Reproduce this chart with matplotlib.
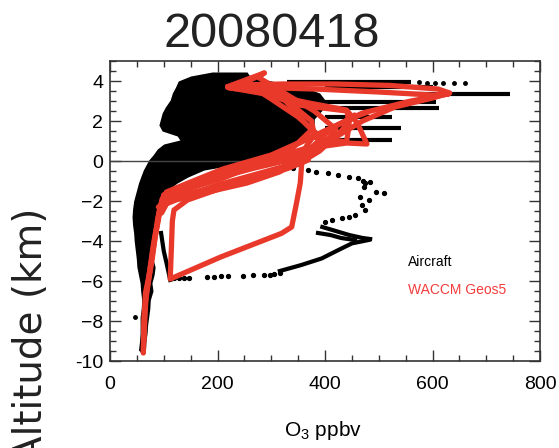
import numpy as np
import matplotlib
matplotlib.use('Agg')
import matplotlib.pyplot as plt
from matplotlib.ticker import MultipleLocator

plt.rcParams['font.family'] = 'Liberation Sans'
plt.rcParams['mathtext.fontset'] = 'custom'
plt.rcParams['mathtext.rm'] = 'Liberation Sans'
plt.rcParams['mathtext.default'] = 'regular'

# aircraft: dense part of the cloud (altitude, left / right O3 edge)
cloud_alt = [4.45, 4.25, 4.0, 3.7, 3.4, 3.05, 2.7, 2.4, 2.1, 1.8, 1.5, 1.25, 1.05, 0.85,
             0.6, 0.3, 0.05, -0.2, -0.45, -0.8, -1.1, -1.6, -2.0, -2.4, -2.8, -3.2,
             -3.6, -4.0, -4.45, -4.9, -5.3, -5.7, -6.1, -6.5, -6.95, -7.4, -7.8, -8.2,
             -8.6, -9.0, -9.45, -9.6]
cloud_left = [190, 150, 127, 122, 116, 112, 103, 97, 94, 91, 97, 125, 130, 100,
              88, 80, 72, 67, 62, 57, 53, 48, 44, 42, 41, 42,
              44, 45, 47, 49, 50, 53, 56, 57, 59, 58, 56, 56,
              56, 55, 53, 58]
cloud_right = [255, 260, 300, 360, 390, 400, 400, 390, 380, 380, 370, 360, 350, 340,
               330, 320, 290, 230, 175, 145, 125, 100, 94, 90, 86, 84,
               81, 80, 78, 80, 84, 82, 78, 80, 75, 74, 72, 70,
               69, 67, 66, 62]

# aircraft: level legs reaching to the right
leg_alt = [3.95, 3.7, 3.35, 2.95, 2.65, 2.2, 1.65, 1.05]
leg_x0 = [330, 400, 560, 400, 420, 400, 400, 400]
leg_x1 = [560, 600, 744, 606, 612, 525, 542, 525]
dots_top_o3 = [575, 590, 605, 620, 640, 660]
dots_top_alt = [3.93, 3.9, 3.92, 3.88, 3.9, 3.88]

# aircraft: sparse descent points on the right
desc_o3 = [341, 369, 384, 406, 425, 444, 462, 470, 475, 484, 472, 494, 509, 466,
           481, 469, 475, 456, 444, 431, 413, 400]
desc_alt = [-0.37, -0.45, -0.53, -0.62, -0.7, -0.78, -0.87, -1.0, -1.12, -1.03, -1.28,
            -1.53, -1.62, -1.78, -1.95, -2.2, -2.45, -2.7, -2.78, -2.87, -2.95, -3.05]
blob1_o3 = [395, 420, 445, 470, 484]
blob1_alt = [-3.3, -3.5, -3.7, -3.85, -3.9]
blob2_o3 = [387, 410, 430, 456]
blob2_alt = [-3.6, -3.7, -3.85, -3.95]

# aircraft: lower return leg
low_dot_o3 = [119, 128, 137, 147, 181, 194, 206, 219, 247, 266, 287, 297, 306, 316]
low_dot_alt = [-5.87, -5.86, -5.85, -5.83, -5.8, -5.78, -5.77, -5.75, -5.73, -5.72,
               -5.7, -5.68, -5.66, -5.6]
low_o3 = [316, 356, 394, 425, 450, 481]
low_alt = [-5.5, -5.2, -4.87, -4.45, -4.12, -3.95]
varm_o3 = [112, 106, 100, 95]
varm_alt = [-5.95, -5.2, -4.5, -3.6]
stray_o3 = [47]
stray_alt = [-7.8]

# WACCM Geos5 profiles along the flight track
waccm = [
    ([62, 63, 66, 72, 78, 84, 91, 95, 100, 145, 206, 269, 325, 370, 420, 470, 530,
      600, 632, 610, 520, 420, 320, 240, 219],
     [-9.55, -8.1, -6.6, -5.8, -4.8, -3.8, -2.8, -2.2, -1.85, -1.3, -0.8, -0.35, 0.0,
      0.45, 1.2, 2.0, 2.7, 3.15, 3.4, 3.6, 3.78, 3.85, 3.85, 3.8, 3.7]),
    ([219, 287, 275, 330, 380, 420, 400, 330, 270, 206, 144, 100, 92, 85, 78, 67, 63],
     [3.72, 4.4, 4.2, 3.3, 2.5, 1.6, 0.9, 0.25, -0.2, -0.65, -1.15, -1.7, -2.5, -3.6,
      -5.0, -6.7, -9.0]),
    ([219, 300, 370, 440, 460, 478, 440, 360, 300, 206, 144, 110, 96],
     [3.68, 3.3, 2.9, 2.55, 1.9, 0.85, 0.9, 0.6, 0.1, -0.9, -1.4, -1.9, -2.6]),
    ([240, 330, 375, 380, 362, 357, 354, 347, 338, 319, 206, 112, 114, 116, 119, 144,
      206, 269, 331, 369],
     [3.75, 3.0, 2.0, 1.3, 0.6, 0.0, -1.1, -2.1, -3.3, -3.62, -4.8, -5.9, -4.5, -3.0,
      -2.45, -1.95, -1.37, -0.87, -0.37, 0.05]),
    ([222, 290, 350, 441, 445, 440, 375, 300, 210, 150, 105, 93, 80, 64, 62],
     [3.65, 3.45, 2.8, 2.5, 1.8, 0.95, 1.2, 0.3, -0.4, -1.05, -1.55, -2.3, -4.3, -7.5,
      -9.6]),
    ([287, 250, 310, 375, 330, 250, 160, 100],
     [4.4, 3.9, 3.5, 1.55, 0.4, -0.4, -1.15, -1.7]),
    ([219, 380, 500, 600, 630, 560, 470, 375, 300, 220, 150, 97, 88],
     [3.72, 3.6, 3.45, 3.3, 3.35, 3.0, 2.4, 1.2, 0.2, -0.55, -1.2, -1.9, -3.0]),
    ([90, 120, 175, 240, 300, 350, 390, 430, 455],
     [-2.3, -1.75, -1.45, -1.05, -0.6, -0.15, 0.5, 1.5, 2.3]),
    ([96, 130, 190, 255, 315, 365, 400, 350, 300, 260],
     [-2.05, -1.9, -1.5, -1.1, -0.55, 0.2, 1.0, 2.2, 3.1, 3.8]),
    ([100, 140, 200, 260, 320, 360, 380, 410, 445, 480],
     [-2.2, -1.75, -1.2, -0.75, -0.3, 0.3, 0.8, 1.6, 2.1, 2.45]),
]

red = '#e8392b'

fig = plt.figure(figsize=(5.59, 4.48), dpi=100)
ax = fig.add_axes([110 / 559, 1 - 361 / 448, 430 / 559, 300 / 448])

ax.fill_betweenx(cloud_alt, cloud_left, cloud_right, color='k', lw=0, zorder=2)
ax.hlines(leg_alt, leg_x0, leg_x1, color='k', lw=3, zorder=2)
ax.plot(dots_top_o3, dots_top_alt, 'o', color='k', ms=2.5, zorder=2)
ax.plot(desc_o3, desc_alt, 'o', color='k', ms=2.8, zorder=2)
ax.plot(blob1_o3, blob1_alt, color='k', lw=3, zorder=2)
ax.plot(blob2_o3, blob2_alt, color='k', lw=3, zorder=2)
ax.plot(low_dot_o3, low_dot_alt, 'o', color='k', ms=2.8, zorder=2)
ax.plot(low_o3, low_alt, color='k', lw=3, zorder=2)
ax.plot(varm_o3, varm_alt, color='k', lw=3, zorder=2)
ax.plot(stray_o3, stray_alt, 'o', color='k', ms=2.5, zorder=2)

ax.axhline(0, color='#444444', lw=1, zorder=3)

for o3, alt in waccm:
    ax.plot(o3, alt, color=red, lw=3.8, solid_capstyle='round',
            solid_joinstyle='round', zorder=4)

ax.text(554, -5.05, 'Aircraft', color='k', fontsize=10, va='center', zorder=5)
ax.text(554, -6.45, 'WACCM Geos5', color='#f23b3b', fontsize=10, va='center', zorder=5)

ax.set_xlim(0, 800)
ax.set_ylim(-10, 5)
ax.set_xticks([0, 200, 400, 600, 800], labels=['0', '200', '400', '600', '800'])
ax.set_yticks([-10, -8, -6, -4, -2, 0, 2, 4],
              labels=['-10', '\u22128', '\u22126', '\u22124', '\u22122', '0', '2', '4'])
ax.xaxis.set_minor_locator(MultipleLocator(50))
ax.yaxis.set_minor_locator(MultipleLocator(0.5))
ax.tick_params(which='both', direction='in', top=True, right=True, width=1,
               color='#333333', labelsize=14)
ax.tick_params(which='major', length=8)
ax.tick_params(which='minor', length=4)
ax.tick_params(axis='x', pad=11)
ax.tick_params(axis='y', pad=5)
for s in ax.spines.values():
    s.set_linewidth(1.2)
    s.set_color('#333333')

fig.text(323.5 / 559, 1 - 430 / 448, 'O$_3$ ppbv', fontsize=15, ha='center', va='center')
fig.text(272 / 559, 1 - 47 / 448, '20080418', fontsize=35, ha='center', va='baseline',
         color='#222222')
fig.text(31.5 / 559, 1 - 208 / 448, 'Altitude (km)', fontsize=28, rotation=90,
         ha='center', va='top', family='DejaVu Sans', color='#222222')

fig.savefig('out.png', dpi=100)
